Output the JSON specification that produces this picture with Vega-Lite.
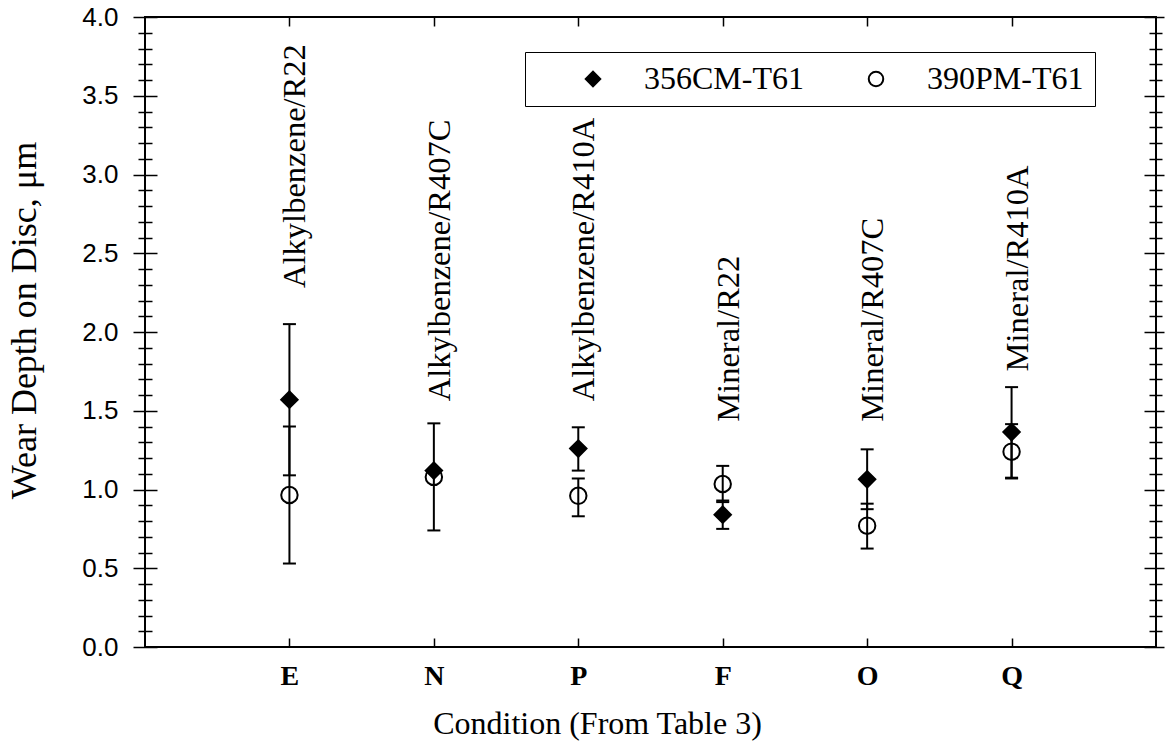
{
  "$schema": "https://vega.github.io/schema/vega-lite/v6.json",
  "width": 1011,
  "height": 630,
  "autosize": {"type": "none"},
  "padding": {"left": 145, "top": 17, "right": 16, "bottom": 96},
  "background": "white",
  "config": {
    "view": {"stroke": "black", "strokeWidth": 2},
    "axis": {"grid": false, "domain": false, "tickColor": "black", "tickWidth": 1.5, "labelColor": "black", "titleColor": "black", "labelOverlap": false}
  },
  "datasets": {
    "wear": [
      {"cond": "E", "series": "356CM-T61", "wear": 1.57, "lo": 1.09, "hi": 2.05},
      {"cond": "E", "series": "390PM-T61", "wear": 0.965, "lo": 0.53, "hi": 1.40},
      {"cond": "N", "series": "356CM-T61", "wear": 1.12, "lo": null, "hi": null},
      {"cond": "N", "series": "390PM-T61", "wear": 1.08, "lo": 0.74, "hi": 1.42},
      {"cond": "P", "series": "356CM-T61", "wear": 1.26, "lo": 1.12, "hi": 1.395},
      {"cond": "P", "series": "390PM-T61", "wear": 0.96, "lo": 0.83, "hi": 1.07},
      {"cond": "F", "series": "356CM-T61", "wear": 0.84, "lo": 0.75, "hi": 0.93},
      {"cond": "F", "series": "390PM-T61", "wear": 1.035, "lo": 0.92, "hi": 1.15},
      {"cond": "O", "series": "356CM-T61", "wear": 1.065, "lo": 0.875, "hi": 1.255},
      {"cond": "O", "series": "390PM-T61", "wear": 0.77, "lo": 0.625, "hi": 0.91},
      {"cond": "Q", "series": "356CM-T61", "wear": 1.365, "lo": 1.075, "hi": 1.65},
      {"cond": "Q", "series": "390PM-T61", "wear": 1.24, "lo": 1.07, "hi": 1.415}
    ],
    "labels": [
      {"cond": "E", "label": "Alkylbenzene/R22", "labelY": 2.28},
      {"cond": "N", "label": "Alkylbenzene/R407C", "labelY": 1.56},
      {"cond": "P", "label": "Alkylbenzene/R410A", "labelY": 1.56},
      {"cond": "F", "label": "Mineral/R22", "labelY": 1.43},
      {"cond": "O", "label": "Mineral/R407C", "labelY": 1.43},
      {"cond": "Q", "label": "Mineral/R410A", "labelY": 1.75}
    ]
  },
  "layer": [
    {
      "data": {"name": "wear"},
      "mark": {"type": "rule", "stroke": "black", "strokeWidth": 2},
      "encoding": {
        "x": {"field": "cond", "type": "nominal",
          "scale": {"type": "point", "domain": ["E", "N", "P", "F", "O", "Q"], "padding": 1},
          "axis": {"orient": "bottom", "offset": -9, "tickSize": 9, "labelPadding": 15, "labelFont": "Liberation Serif", "labelFontSize": 28, "labelFontWeight": "bold", "labelAngle": 0,
            "title": "Condition (From Table 3)", "titleFont": "Liberation Serif", "titleFontSize": 32, "titleFontWeight": "normal", "titleX": 452, "titleY": 95, "titleBaseline": "alphabetic", "titleAlign": "center", "titleAnchor": null}},
        "y": {"field": "lo", "type": "quantitative",
          "scale": {"domain": [0, 4], "nice": false, "zero": true},
          "axis": {"orient": "left", "values": [0, 0.5, 1, 1.5, 2, 2.5, 3, 3.5, 4], "format": ".1f", "offset": -12, "tickSize": 24, "labelPadding": 15, "labelFont": "Liberation Sans", "labelFontSize": 26,
            "title": "Wear Depth on Disc, μm", "titleFont": "Liberation Serif", "titleFontSize": 36, "titleFontWeight": "normal", "titleAngle": 270, "titleX": -133, "titleY": 303, "titleBaseline": "middle", "titleAlign": "center"}},
        "y2": {"field": "hi"}
      }
    },
    {
      "data": {"name": "wear"},
      "mark": {"type": "tick", "color": "black", "size": 13, "thickness": 2, "opacity": 1},
      "encoding": {
        "x": {"field": "cond", "type": "nominal",
          "scale": {"type": "point", "domain": ["E", "N", "P", "F", "O", "Q"], "padding": 1},
          "axis": {"orient": "top", "offset": -9, "tickSize": 9, "labels": false, "title": null}},
        "y": {"field": "lo", "type": "quantitative",
          "scale": {"domain": [0, 4], "nice": false, "zero": true},
          "axis": {"orient": "left", "values": [0.1, 0.2, 0.3, 0.4, 0.6, 0.7, 0.8, 0.9, 1.1, 1.2, 1.3, 1.4, 1.6, 1.7, 1.8, 1.9, 2.1, 2.2, 2.3, 2.4, 2.6, 2.7, 2.8, 2.9, 3.1, 3.2, 3.3, 3.4, 3.6, 3.7, 3.8, 3.9], "offset": -7, "tickSize": 14, "labels": false, "title": null}}
      }
    },
    {
      "data": {"name": "wear"},
      "mark": {"type": "tick", "color": "black", "size": 13, "thickness": 2, "opacity": 1},
      "encoding": {
        "x": {"field": "cond", "type": "nominal",
          "scale": {"type": "point", "domain": ["E", "N", "P", "F", "O", "Q"], "padding": 1},
          "axis": null},
        "y": {"field": "hi", "type": "quantitative",
          "scale": {"domain": [0, 4], "nice": false, "zero": true},
          "axis": {"orient": "right", "values": [0, 0.5, 1, 1.5, 2, 2.5, 3, 3.5, 4], "offset": -12, "tickSize": 20, "labels": false, "title": null}}
      }
    },
    {
      "data": {"name": "wear"},
      "mark": {"type": "point", "filled": true, "size": 270, "opacity": 1, "strokeWidth": 2},
      "encoding": {
        "x": {"field": "cond", "type": "nominal",
          "scale": {"type": "point", "domain": ["E", "N", "P", "F", "O", "Q"], "padding": 1},
          "axis": null},
        "y": {"field": "wear", "type": "quantitative",
          "scale": {"domain": [0, 4], "nice": false, "zero": true},
          "axis": {"orient": "right", "values": [0.1, 0.2, 0.3, 0.4, 0.6, 0.7, 0.8, 0.9, 1.1, 1.2, 1.3, 1.4, 1.6, 1.7, 1.8, 1.9, 2.1, 2.2, 2.3, 2.4, 2.6, 2.7, 2.8, 2.9, 3.1, 3.2, 3.3, 3.4, 3.6, 3.7, 3.8, 3.9], "offset": -7, "tickSize": 13, "labels": false, "title": null}},
        "shape": {"field": "series", "type": "nominal",
          "scale": {"domain": ["356CM-T61", "390PM-T61"], "range": ["diamond", "circle"]},
          "legend": {"title": null, "orient": "none", "legendX": 380, "legendY": 35, "direction": "horizontal", "columns": 2,
            "strokeColor": "black", "fillColor": "white", "padding": 11, "symbolOffset": 41, "labelOffset": 35, "columnPadding": 15,
            "labelFont": "Liberation Serif", "labelFontSize": 32, "labelColor": "black", "labelLimit": 400,
            "symbolSize": 210, "symbolStrokeWidth": 2}},
        "fill": {"field": "series", "type": "nominal",
          "scale": {"domain": ["356CM-T61", "390PM-T61"], "range": ["black", "transparent"]}},
        "stroke": {"field": "series", "type": "nominal",
          "scale": {"domain": ["356CM-T61", "390PM-T61"], "range": ["black", "black"]}}
      }
    },
    {
      "data": {"name": "labels"},
      "mark": {"type": "text", "angle": 270, "align": "left", "baseline": "middle", "dy": 6, "font": "Liberation Serif", "fontSize": 32.5, "color": "black"},
      "encoding": {
        "x": {"field": "cond", "type": "nominal",
          "scale": {"type": "point", "domain": ["E", "N", "P", "F", "O", "Q"], "padding": 1},
          "axis": null},
        "y": {"field": "labelY", "type": "quantitative",
          "scale": {"domain": [0, 4], "nice": false, "zero": true},
          "axis": null},
        "text": {"field": "label"}
      }
    }
  ],
  "resolve": {"axis": {"x": "independent", "y": "independent"}}
}
